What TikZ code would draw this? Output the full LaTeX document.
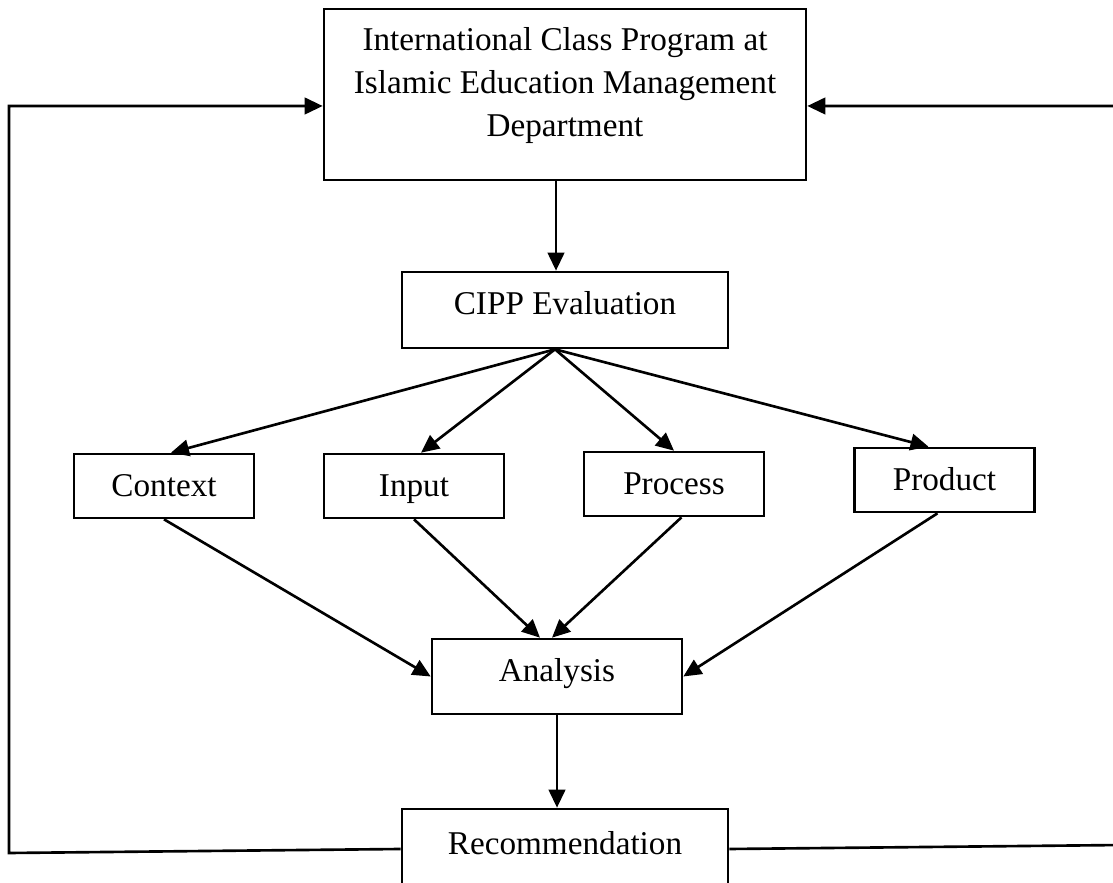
\documentclass[tikz,border=0pt]{standalone}
\usepackage{fontspec}
\setmainfont{Liberation Serif}
\usetikzlibrary{arrows.meta,positioning,calc}
\tikzset{every picture/.style={line width=1.5pt}}
\tikzset{
  box/.style={draw, rectangle, inner sep=0pt, font=\fontsize{18.9}{24.5}\selectfont},
  smallbox/.style={box, minimum width=3.6cm, minimum height=1.28cm, text height=0.5cm, text depth=0.06cm},
  midbox/.style={box, minimum width=6.52cm, minimum height=1.52cm, text height=0.5cm, text depth=0.3cm},
  arr/.style={-{Triangle[length=0.36cm,width=0.33cm]}}
}

\begin{document}
\begin{tikzpicture}
    \useasboundingbox (0,0) rectangle (22.26,17.64);
    % 上方程序框
    \node[box, minimum width=9.64cm, minimum height=3.42cm] (prog) at (11.30,15.75)
        {\raisebox{0.2cm}[\height][\depth]{\begin{tabular}{@{}c@{}}International Class Program at\\Islamic Education Management\\Department\end{tabular}}};
    \node[midbox] (cipp) at (11.30,11.44) {CIPP Evaluation};
    % 四个评价成分
    \node[smallbox] (ctx) at (3.28,7.92) {Context};
    \node[smallbox] (inp) at (8.28,7.92) {Input};
    \node[smallbox] (proc) at (13.48,7.96) {Process};
    \node[smallbox] (prod) at (18.89,8.04) {Product};
    % 分析与建议
    \node[midbox, minimum width=5.0cm, minimum height=1.5cm] (ana) at (11.14,4.11) {Analysis};
    \node[midbox, minimum height=1.6cm] (rec) at (11.30,0.66) {Recommendation};
    % 箭头
    \draw[arr] ([xshift=-0.18cm]prog.south) -- ([xshift=-0.18cm]cipp.north);
    \coordinate (fan) at ([xshift=-0.2cm]cipp.south);
    \draw[arr] (fan) -- ([xshift=0.14cm]ctx.north);
    \draw[arr] (fan) -- ([xshift=0.14cm]inp.north);
    \draw[arr] (fan) -- (proc.north);
    \draw[arr] (fan) -- ([xshift=-0.32cm]prod.north);
    \draw[arr] (ctx.south) -- (ana.west);
    \draw[arr] (inp.south) -- ([xshift=-0.34cm]ana.north);
    \draw[arr] ([xshift=0.15cm]proc.south) -- ([xshift=-0.1cm]ana.north);
    \draw[arr] ([xshift=-0.14cm]prod.south) -- (ana.east);
    \draw[arr] (ana.south) -- (ana.south |- rec.north);
    % 反馈回路
    \coordinate (lb) at (0.18,0.58);
    \coordinate (lt) at (0.18,15.52);
    \draw[arr] (rec.west) -- (lb) -- (lt) -- (lt -| prog.west);
    \coordinate (rb) at (22.45,0.74);
    \coordinate (rt) at (22.45,15.52);
    \draw[arr] (rec.east) -- (rb) -- (rt) -- (rt -| prog.east);
\end{tikzpicture}
\end{document}
